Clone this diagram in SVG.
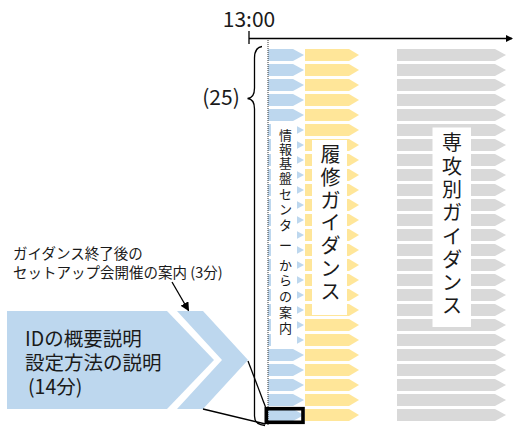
<svg xmlns="http://www.w3.org/2000/svg" width="513" height="428" viewBox="0 0 513 428">
<style>
text{font-family:"Noto Sans CJK JP","Noto Sans",sans-serif;fill:#1a1a1a}
.b{fill:#BDD7EE}.y{fill:#FFE699}.g{fill:#D9D9D9}.w{fill:#fff}
.ln{stroke:#000;fill:none;stroke-width:1.3}
.v13{font-size:13px;text-anchor:middle}
.v20{font-size:20px;text-anchor:middle}
</style>
<defs>
<g id="row">
<path class="b" d="M268,0H293L304,6L293,12H268Z"/>
<path class="y" d="M305,0H349L359,6L349,12H305Z"/>
<path class="g" d="M397,0H495L506,6L495,12H397Z"/>
</g>
<marker id="ah" markerWidth="9" markerHeight="9" refX="8" refY="4.5" orient="auto" markerUnits="userSpaceOnUse"><path d="M0,0L9,4.5L0,9Z" fill="#000"/></marker>
<marker id="ah2" markerWidth="7" markerHeight="7" refX="6" refY="3.5" orient="auto" markerUnits="userSpaceOnUse"><path d="M0,0L7,3.5L0,7Z" fill="#000"/></marker>
</defs>

<g id="timeline">
<text x="249" y="26.5" style="font-size:21px;text-anchor:middle">13:00</text>
<line class="ln" x1="249" y1="31" x2="249" y2="44"/>
<line class="ln" x1="249" y1="38.5" x2="512" y2="38.5" marker-end="url(#ah2)"/>
</g>

<g id="rows">
<use href="#row" y="49"/><use href="#row" y="64"/><use href="#row" y="79"/><use href="#row" y="94"/><use href="#row" y="109"/>
<use href="#row" y="124"/><use href="#row" y="139"/><use href="#row" y="154"/><use href="#row" y="169"/><use href="#row" y="184"/>
<use href="#row" y="199"/><use href="#row" y="214"/><use href="#row" y="229"/><use href="#row" y="244"/><use href="#row" y="259"/>
<use href="#row" y="274"/><use href="#row" y="289"/><use href="#row" y="304"/><use href="#row" y="319"/><use href="#row" y="334"/>
<use href="#row" y="349"/><use href="#row" y="364"/><use href="#row" y="379"/><use href="#row" y="394"/><use href="#row" y="409"/>
</g>

<line id="start-line" x1="268" y1="40" x2="268" y2="425" stroke="#333" stroke-width="1" stroke-dasharray="1,1"/>

<g id="info-center">
<rect class="w" x="271" y="123" width="26" height="223"/>
<text class="v13">
<tspan x="285.5" y="140">情</tspan><tspan x="285.5" y="154">報</tspan><tspan x="285.5" y="168">基</tspan><tspan x="285.5" y="183">盤</tspan><tspan x="285.5" y="198.5">セ</tspan><tspan x="285.5" y="214">ン</tspan><tspan x="285.5" y="230">タ</tspan><tspan x="285.5" y="250">ー</tspan><tspan x="285.5" y="270">か</tspan><tspan x="285.5" y="285">ら</tspan><tspan x="285.5" y="301">の</tspan><tspan x="285.5" y="317">案</tspan><tspan x="285.5" y="333">内</tspan>
</text>
</g>

<g id="rishu">
<rect class="w" x="312" y="140" width="35" height="175"/>
<text class="v20">
<tspan x="330.5" y="162">履</tspan><tspan x="330.5" y="184.8">修</tspan><tspan x="330.5" y="207.6">ガ</tspan><tspan x="330.5" y="230.4">イ</tspan><tspan x="330.5" y="253.2">ダ</tspan><tspan x="330.5" y="276">ン</tspan><tspan x="330.5" y="298.8">ス</tspan>
</text>
</g>

<g id="senko">
<rect class="w" x="432.5" y="127.5" width="38.5" height="199.5"/>
<text class="v20">
<tspan x="452" y="150.3">専</tspan><tspan x="452" y="173.6">攻</tspan><tspan x="452" y="196.9">別</tspan><tspan x="452" y="220.2">ガ</tspan><tspan x="452" y="243.5">イ</tspan><tspan x="452" y="266.8">ダ</tspan><tspan x="452" y="290.1">ン</tspan><tspan x="452" y="313.4">ス</tspan>
</text>
</g>

<g id="brace">
<path class="ln" d="M262,46.5Q254.5,47.5 254.5,58L254.5,88Q254.5,98 247.5,98.5Q254.5,99 254.5,109L254.5,416Q254.5,425 265,425.5"/>
<text x="221" y="104.5" style="font-size:21px;text-anchor:middle">(25)</text>
</g>

<g id="highlight">
<rect x="266.3" y="408.7" width="36.7" height="13.6" fill="none" stroke="#000" stroke-width="3.6"/>
</g>

<g id="chevron">
<path class="b" d="M7,311H167L214,360L167,409H7Z"/>
<path class="b" d="M177,311H203L248,360L203,409H177L222,360Z"/>
<text style="font-size:19.5px"><tspan x="25" y="346">IDの概要説明</tspan><tspan x="25" y="370">設定方法の説明</tspan><tspan x="28" y="393.5">(14分)</tspan></text>
</g>

<g id="setup-note">
<text style="font-size:14.5px"><tspan x="13" y="259">ガイダンス終了後の</tspan><tspan x="13" y="277.5">セットアップ会開催の案内 (3分)</tspan></text>
</g>

<g id="connectors">
<line class="ln" x1="172" y1="282" x2="188.5" y2="310.5" stroke-width="1.8" marker-end="url(#ah)"/>
<line class="ln" x1="248" y1="361" x2="265.5" y2="407"/>
<line class="ln" x1="203" y1="409" x2="265.5" y2="424"/>
</g>
</svg>
